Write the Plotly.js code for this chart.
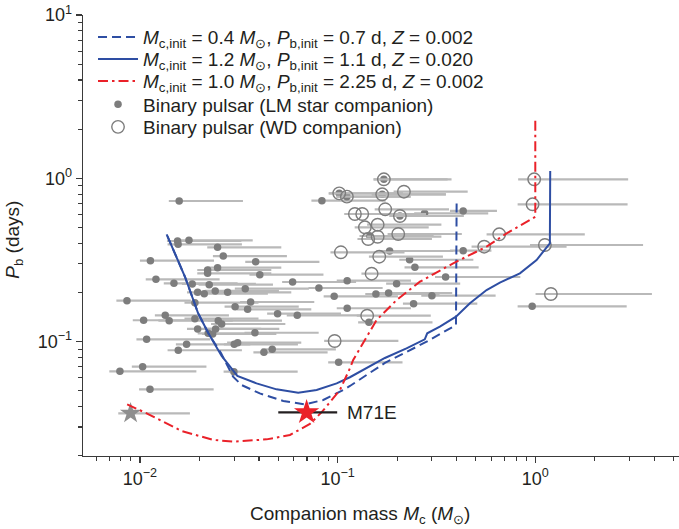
<!DOCTYPE html>
<html>
<head>
<meta charset="utf-8">
<script src="https://cdn.plot.ly/plotly-3.0.1.min.js"></script>
<style>html,body{margin:0;padding:0;background:#fff}#chart{width:679px;height:529px}</style>
</head>
<body>
<div id="chart"></div>
<script>
// ---- Binary pulsars with low-mass (LM) star companions ----
const lmMass = [0.0158,0.0155,0.0156,0.0177,0.0247,0.0264,0.0113,0.0385,0.0247,0.0220,0.0220,0.0404,0.01205,0.01486,0.01839,0.02241,0.0341,0.01959,0.02115,0.02404,0.02777,0.0086,0.01897,0.0363,0.0303,0.03506,0.01343,0.01044,0.01406,0.01897,0.0249,0.0259,0.01959,0.02415,0.02215,0.02333,0.03817,0.01081,0.01722,0.0300,0.0312,0.01563,0.04238,0.04668,0.01032,0.00792,0.02989,0.01124,
  0.1714,0.1019,0.1114,0.1681,0.0833,0.2066,0.2754,0.1457,0.1833,0.2313,0.246,0.3518,0.0592,0.1118,0.1988,0.0804,0.0961,0.1562,0.1811,0.2999,0.2423,0.1118,0.0497,0.0625,0.144,0.1012,0.4318,0.4318,0.9645];
const lmPb = [0.726,0.413,0.394,0.417,0.378,0.334,0.313,0.308,0.2835,0.2745,0.262,0.257,0.2406,0.2275,0.2254,0.2231,0.2109,0.2004,0.1965,0.2042,0.2004,0.178,0.1731,0.1748,0.1637,0.1577,0.1449,0.1351,0.1343,0.1381,0.1343,0.1282,0.1195,0.1195,0.1124,0.1113,0.1133,0.1033,0.0963,0.0963,0.0985,0.0885,0.0860,0.0897,0.0702,0.0658,0.0654,0.0510,
  0.986,0.809,0.772,0.798,0.7295,0.5876,0.6104,0.4432,0.3589,0.3172,0.285,0.2486,0.2317,0.236,0.2262,0.2129,0.1894,0.1956,0.1984,0.191,0.1707,0.160,0.1482,0.1449,0.1313,0.0747,0.631,0.3603,0.1645];
const lmMassLo = [0.0140,0.0137,0.0138,0.0157,0.0219,0.0234,0.0100,0.0341,0.0219,0.0195,0.0195,0.0358,0.0107,0.0132,0.0163,0.0198,0.0302,0.0173,0.0187,0.0213,0.0246,0.0076,0.0168,0.0321,0.0268,0.0310,0.0119,0.0092,0.0124,0.0168,0.0220,0.0229,0.0173,0.0214,0.0196,0.0206,0.0338,0.0096,0.0152,0.0266,0.0276,0.0138,0.0375,0.0413,0.0091,0.0070,0.0265,0.0099,
  0.152,0.0902,0.0986,0.149,0.0737,0.183,0.244,0.129,0.162,0.205,0.218,0.311,0.0524,0.099,0.176,0.0712,0.0850,0.138,0.160,0.265,0.214,0.099,0.0440,0.0553,0.127,0.0896,0.37,0.37,0.814];
const lmMassHi = [0.0332,0.0326,0.0328,0.0372,0.0519,0.0554,0.0237,0.0809,0.0519,0.0462,0.0462,0.0848,0.0253,0.0312,0.0386,0.0471,0.0716,0.0411,0.0444,0.0505,0.0583,0.0181,0.0398,0.0762,0.0636,0.0736,0.0282,0.0219,0.0295,0.0398,0.0523,0.0544,0.0411,0.0507,0.0465,0.0490,0.0802,0.0227,0.0362,0.0630,0.0655,0.0328,0.0890,0.0980,0.0217,0.0193,0.0628,0.0236,
  0.36,0.214,0.234,0.353,0.175,0.434,0.578,0.306,0.385,0.486,0.517,0.84,0.124,0.235,0.417,0.169,0.202,0.328,0.380,0.630,0.509,0.235,0.104,0.131,0.302,0.213,0.64,0.60,2.9];

// ---- Binary pulsars with white-dwarf (WD) companions ----
const wdMass = [0.1714,0.1019,0.1114,0.1681,0.2165,0.1223,0.1332,0.1741,0.2066,0.1374,0.1594,0.1428,0.1594,0.2026,0.1039,0.1624,0.1486,0.1411,0.0966,0.9872,0.969,0.6569,0.5514,1.1184,1.199];
const wdPb = [0.986,0.809,0.772,0.798,0.828,0.6044,0.6044,0.646,0.5876,0.501,0.520,0.4248,0.4388,0.456,0.3523,0.3311,0.2605,0.1441,0.1009,0.986,0.693,0.454,0.3813,0.3905,0.1956];
const wdMassLo = [0.152,0.0902,0.0986,0.149,0.192,0.108,0.118,0.154,0.183,0.122,0.141,0.126,0.141,0.179,0.092,0.144,0.132,0.125,0.0855,0.819,0.814,0.567,0.476,0.94,1.003];
const wdMassHi = [0.377,0.214,0.234,0.353,0.455,0.257,0.280,0.366,0.434,0.289,0.335,0.300,0.335,0.425,0.218,0.341,0.312,0.296,0.203,2.95,2.93,1.78,1.44,3.51,3.89];

// ---- Evolutionary tracks ----
const trackDashMass = [0.4,0.397,0.282,0.2147,0.1735,0.1154,0.1067,0.0846,0.0683,0.0531,0.0404,0.0327,0.0296,0.0257,0.0222,0.0197,0.0169,0.01365];
const trackDashPb   = [0.7,0.1263,0.0999,0.0848,0.0740,0.0535,0.0505,0.0439,0.0413,0.0433,0.0482,0.0542,0.0610,0.0851,0.1124,0.1491,0.2495,0.454];
const trackSolidMass = [1.19,1.185,1.015,0.836,0.662,0.567,0.467,0.397,0.329,0.284,0.276,0.223,0.1735,0.1154,0.0989,0.0783,0.0632,0.0491,0.0389,0.0311,0.0259,0.0222,0.0197,0.0169,0.01365];
const trackSolidPb   = [1.108,0.400,0.316,0.262,0.2295,0.207,0.1716,0.1421,0.1234,0.1124,0.1033,0.0910,0.0794,0.0605,0.0555,0.0505,0.0486,0.0510,0.0555,0.0616,0.0817,0.1124,0.1491,0.2495,0.454];
const trackRedMass = [1.0,1.0,0.716,0.567,0.3843,0.2609,0.1988,0.1575,0.1199,0.1154,0.1027,0.0833,0.0724,0.0574,0.0437,0.0299,0.0235,0.0163,0.0110,0.0084];
const trackRedPb   = [2.25,0.5817,0.4603,0.3813,0.3017,0.2327,0.1797,0.1356,0.0772,0.0686,0.0505,0.0371,0.0313,0.0268,0.0252,0.0244,0.0250,0.0283,0.0360,0.0419];

// ---- Highlighted objects ----
const grayStarMass = [0.00897], grayStarPb = [0.0364], grayStarLo = [0.00777], grayStarHi = [0.0179];
const m71eMass = [0.0697], m71ePb = [0.0369], m71eLo = [0.0501], m71eHi = [0.0995];
const m71eLabel = 'M71E', m71eLabelMass = 0.109;

// ---- Tick labels ----
const xTickVals = [0.01, 0.1, 1];
const xTickText = ['10<sup>−2</sup>', '10<sup>−1</sup>', '10<sup>0</sup>'];
const yTickVals = [0.1, 1, 10];
const yTickText = ['10<sup>−1</sup>', '10<sup>0</sup>', '10<sup>1</sup>'];

const legendTexts = [
  '<i>M</i><sub>c,init</sub> = 0.4 <i>M</i><sub>⊙</sub>, <i>P</i><sub>b,init</sub> = 0.7 d, <i>Z</i> = 0.002',
  '<i>M</i><sub>c,init</sub> = 1.2 <i>M</i><sub>⊙</sub>, <i>P</i><sub>b,init</sub> = 1.1 d, <i>Z</i> = 0.020',
  '<i>M</i><sub>c,init</sub> = 1.0 <i>M</i><sub>⊙</sub>, <i>P</i><sub>b,init</sub> = 2.25 d, <i>Z</i> = 0.002',
  'Binary pulsar (LM star companion)',
  'Binary pulsar (WD companion)'
];

// ---- helpers ----
const sub = (a, b) => a.map((v, i) => v - b[i]);
function minorVals(lo, hi) {
  const out = [];
  for (let e = lo; e <= hi; e++) for (let d = 2; d <= 9; d++) out.push(d * Math.pow(10, e));
  return out;
}

const FONT = 'Liberation Sans, Arial, Helvetica, sans-serif';
const BLUE = '#2e4ea3', RED = '#ea2129', DOTGRAY = '#7d7d7d', BARGRAY = '#b9b9b9', AXIS = '#3a3a3a';

const traces = [
  {
    x: lmMass, y: lmPb, type: 'scatter', mode: 'markers', name: legendTexts[3], legend: 'legend4',
    marker: {color: DOTGRAY, size: 7.5},
    error_x: {type: 'data', symmetric: false, array: sub(lmMassHi, lmMass), arrayminus: sub(lmMass, lmMassLo),
              color: BARGRAY, thickness: 2.2, width: 0}
  },
  {
    x: wdMass, y: wdPb, type: 'scatter', mode: 'markers', name: legendTexts[4], legend: 'legend5',
    marker: {symbol: 'circle-open', color: DOTGRAY, size: 12.5, line: {width: 1.4, color: DOTGRAY}},
    error_x: {type: 'data', symmetric: false, array: sub(wdMassHi, wdMass), arrayminus: sub(wdMass, wdMassLo),
              color: BARGRAY, thickness: 2.2, width: 0}
  },
  {
    x: grayStarMass, y: grayStarPb, type: 'scatter', mode: 'markers', showlegend: false,
    marker: {symbol: 'star', color: '#8e8e8e', size: 16},
    error_x: {type: 'data', symmetric: false, array: sub(grayStarHi, grayStarMass), arrayminus: sub(grayStarMass, grayStarLo),
              color: BARGRAY, thickness: 2.2, width: 0}
  },
  {
    x: trackDashMass, y: trackDashPb, type: 'scatter', mode: 'lines', name: legendTexts[0], legend: 'legend',
    line: {color: BLUE, width: 2, dash: '9px,5px'}
  },
  {
    x: trackSolidMass, y: trackSolidPb, type: 'scatter', mode: 'lines', name: legendTexts[1], legend: 'legend2',
    line: {color: BLUE, width: 2}
  },
  {
    x: trackRedMass, y: trackRedPb, type: 'scatter', mode: 'lines', name: legendTexts[2], legend: 'legend3',
    line: {color: RED, width: 2, dash: '10px,4px,2.5px,4px'}
  },
  {
    x: m71eMass, y: m71ePb, type: 'scatter', mode: 'markers', showlegend: false,
    marker: {symbol: 'star', color: RED, size: 19},
    error_x: {type: 'data', symmetric: false, array: sub(m71eHi, m71eMass), arrayminus: sub(m71eMass, m71eLo),
              color: '#231f20', thickness: 2.2, width: 0}
  }
];

function leg(yPaper) {
  return {x: 0.0168, y: yPaper, xanchor: 'left', yanchor: 'middle', bgcolor: 'rgba(0,0,0,0)',
          borderwidth: 0, itemwidth: 40, font: {family: FONT, size: 19, color: '#231f20'}};
}

const axisCommon = {
  type: 'log', showgrid: false, zeroline: false, showline: true, linecolor: AXIS, linewidth: 1.3,
  ticks: 'outside', ticklen: 6, tickwidth: 1.2, tickcolor: AXIS, tickmode: 'array',
  tickfont: {family: FONT, size: 18, color: '#231f20'}
};

const layout = {
  width: 679, height: 529,
  margin: {l: 83, r: 0, t: 15, b: 73, pad: 0},
  paper_bgcolor: '#ffffff', plot_bgcolor: '#ffffff',
  font: {family: FONT, size: 18, color: '#231f20'},
  showlegend: true,
  legend: leg(0.950), legend2: leg(0.900), legend3: leg(0.850), legend4: leg(0.797), legend5: leg(0.746),
  xaxis: Object.assign({}, axisCommon, {
    range: [-2.288, 0.727], tickvals: xTickVals, ticktext: xTickText,
    minor: {tickmode: 'array', tickvals: minorVals(-3, 0), ticks: 'outside', ticklen: 3.5, tickwidth: 1.1, tickcolor: AXIS}
  }),
  yaxis: Object.assign({}, axisCommon, {
    range: [-1.7005, 1.0], tickvals: yTickVals, ticktext: yTickText,
    minor: {tickmode: 'array', tickvals: minorVals(-2, 0), ticks: 'outside', ticklen: 3.5, tickwidth: 1.1, tickcolor: AXIS}
  }),
  annotations: [
    {x: Math.log10(m71eLabelMass), y: Math.log10(m71ePb[0]), xref: 'x', yref: 'y', text: m71eLabel,
     showarrow: false, xanchor: 'left', yanchor: 'middle', font: {family: FONT, size: 19, color: '#231f20'}},
    {x: 0.465, y: -0.134, xref: 'paper', yref: 'paper', showarrow: false, xanchor: 'center', yanchor: 'middle',
     text: 'Companion mass <i>M</i><sub>c</sub> (<i>M</i><sub>⊙</sub>)', font: {family: FONT, size: 19, color: '#231f20'}},
    {x: -0.116, y: 0.49, xref: 'paper', yref: 'paper', showarrow: false, xanchor: 'center', yanchor: 'middle',
     textangle: -90, text: '<i>P</i><sub>b</sub> (days)', font: {family: FONT, size: 19, color: '#231f20'}}
  ]
};

Plotly.newPlot('chart', traces, layout, {displayModeBar: false, staticPlot: true});
</script>
</body>
</html>
